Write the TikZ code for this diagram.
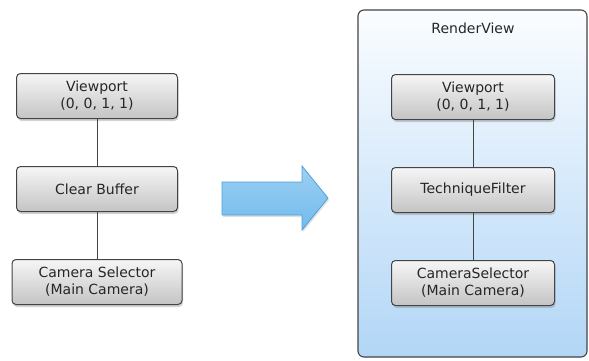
\documentclass[tikz,border=0pt]{standalone}
\usepackage{fontspec}
\setmainfont{DejaVu Sans}
\usepackage{xcolor}
\usetikzlibrary{positioning,shadows}
\definecolor{edgegray}{HTML}{444444}
\definecolor{boxtop}{HTML}{F6F6F6}
\definecolor{boxbot}{HTML}{C4C4C4}
\definecolor{paneltop}{HTML}{FBFDFF}
\definecolor{panelbot}{HTML}{B2D6F6}
\definecolor{arrowfill}{HTML}{72BBEC}
\definecolor{arrowedge}{HTML}{4F9FDB}

\begin{document}
\begin{tikzpicture}[
    x=1pt, y=-1pt,
    box/.style={draw=edgegray, line width=1pt, rounded corners=4pt, align=center,
        top color=boxtop, bottom color=boxbot, text=black!85,
        minimum height=45pt, inner sep=2pt,
        font=\fontsize{14}{17}\selectfont,
        drop shadow={opacity=0.35, shadow xshift=1pt, shadow yshift=-2.5pt}},
    link/.style={draw=edgegray, line width=1pt}
]
\useasboundingbox (0,0) rectangle (589,360);
% left chain
\node[box, minimum width=161pt] (lview) at (97,96) {Viewport\\(0, 0, 1, 1)};
\node[box, minimum width=161pt, below=47pt of lview] (lclear) {Clear Buffer};
\node[box, minimum width=170pt, below=47pt of lclear] (lcam) {Camera Selector\\(Main Camera)};
\draw[link] (lview) -- (lclear);
\draw[link] (lclear) -- (lcam);
% big arrow
\draw[draw=arrowedge, line width=0.8pt, top color=arrowfill!70, bottom color=arrowfill,
      drop shadow={opacity=0.25, shadow xshift=1pt, shadow yshift=-2pt}]
    (222,182) -- (302,182) -- (302,166) -- (328,198) -- (302,230) -- (302,215) -- (222,215) -- cycle;
% render view panel
\draw[draw=edgegray, line width=1.1pt, rounded corners=6pt, top color=paneltop, bottom color=panelbot]
    (358,10) rectangle (587,357);
\node[font=\fontsize{14}{17}\selectfont, text=black!85] (rvlabel) at (473,28) {RenderView};
\node[box, minimum width=163pt] (rview) at (473,97) {Viewport\\(0, 0, 1, 1)};
\node[box, minimum width=163pt, below=47pt of rview] (rfilter) {TechniqueFilter};
\node[box, minimum width=163pt, below=47pt of rfilter] (rcam) {CameraSelector\\(Main Camera)};
\draw[link] (rview) -- (rfilter);
\draw[link] (rfilter) -- (rcam);
\end{tikzpicture}
\end{document}
